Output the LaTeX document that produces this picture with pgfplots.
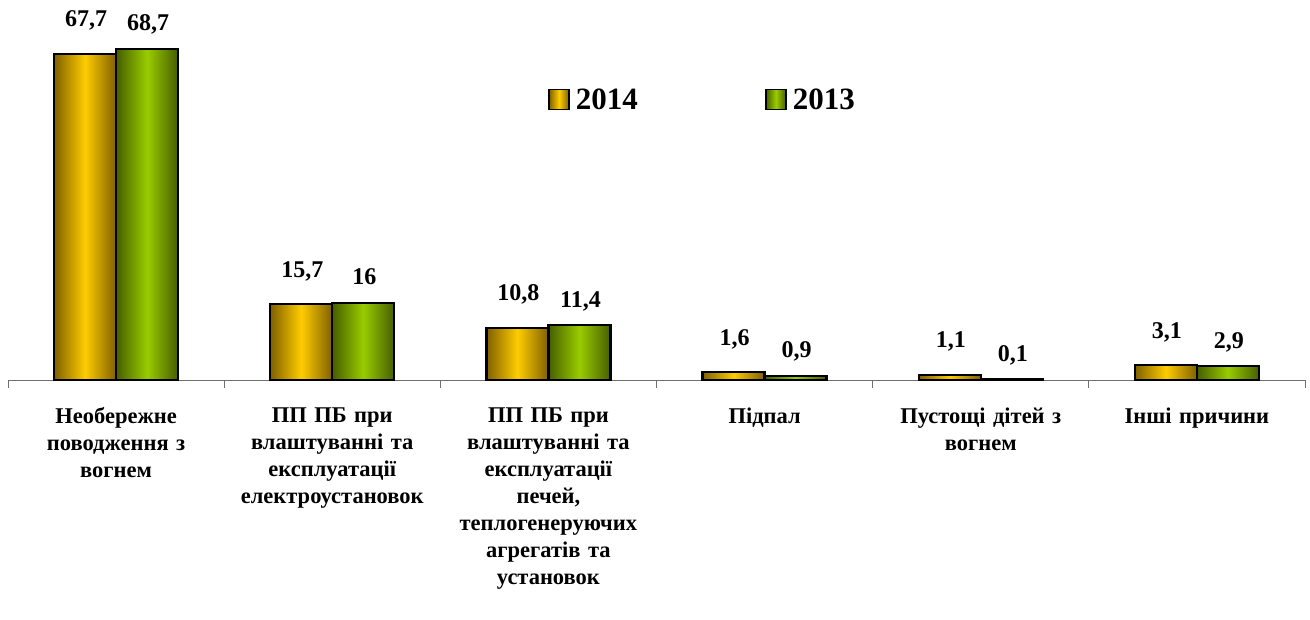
\documentclass[border=0pt]{standalone}
\usepackage{fontspec}
\setmainfont{Liberation Serif}
\usepackage{pgfplots}
\pgfplotsset{compat=1.18}
\usetikzlibrary{calc}
\definecolor{goldb}{HTML}{FFCC00}
\definecolor{goldd}{HTML}{7F6000}
\definecolor{greenb}{HTML}{99CC00}
\definecolor{greend}{HTML}{465E00}
\definecolor{axgray}{HTML}{707070}
\pgfplotsset{
  s14/.style={ybar, bar width=62pt, bar shift=-31pt, draw=black, line width=2.2pt,
    left color=goldd, right color=goldd, middle color=goldb,
    every node near coord/.append style={yshift=27pt, xshift=-30pt}},
  s13/.style={ybar, bar width=62pt, bar shift=31pt, draw=black, line width=2.2pt,
    left color=greend, right color=greend, middle color=greenb,
    every node near coord/.append style={yshift=18pt, xshift=32pt}},
}
\begin{document}
\begin{tikzpicture}
\begin{axis}[
  scale only axis, width=1297pt, height=380pt,
  xmin=-0.5, xmax=5.5, ymin=0, ymax=78.84,
  axis x line*=bottom, axis y line=none,
  axis line style={draw=axgray, line width=0.9pt},
  xtick={0,1,2,3,4,5},
  major tick length=0pt,
  xticklabels={
    {Необережне\\поводження з\\вогнем},
    {ПП ПБ при\\влаштуванні та\\експлуатації\\електроустановок},
    {ПП ПБ при\\влаштуванні та\\експлуатації\\печей,\\теплогенеруючих\\агрегатів та\\установок},
    {Підпал},
    {Пустощі дітей з\\вогнем},
    {Інші причини}},
  xticklabel style={font=\bfseries\fontsize{22.5}{27}\selectfont, align=center, text width=215pt, anchor=north, yshift=-24pt},
  extra x ticks={-0.5,0.5,1.5,2.5,3.5,4.5,5.5},
  extra x tick labels={},
  extra x tick style={major tick length=8pt, tick align=outside, tick style={draw=axgray, line width=0.9pt}},
  clip=false,
  nodes near coords,
  nodes near coords style={font=\bfseries\fontsize{24}{28}\selectfont, anchor=base, text=black,
    /pgf/number format/assume math mode=true,
    /pgf/number format/use comma, /pgf/number format/fixed, /pgf/number format/precision=1},
  legend columns=2,
  legend style={draw=none, fill=none, at={(rel axis cs:0.4163,0.738)}, anchor=west,
    font=\bfseries\fontsize{31}{36}\selectfont, inner sep=0pt,
    /tikz/every odd column/.append style={column sep=4pt},
    /tikz/every even column/.append style={column sep=125pt}},
  legend image code/.code={\draw[#1, line width=1.8pt] (0pt,-10pt) rectangle (20pt,10pt);},
]
\addplot[s14] coordinates {(0,67.7)};
\addplot[s13] coordinates {(0,68.7)};
\addplot[s14, forget plot] coordinates {(1,15.7)};
\addplot[s13, forget plot] coordinates {(1,16)};
\addplot[s14, forget plot] coordinates {(2,10.8)};
\addplot[s13, forget plot] coordinates {(2,11.4)};
\addplot[s14, forget plot] coordinates {(3,1.6)};
\addplot[s13, forget plot] coordinates {(3,0.9)};
\addplot[s14, forget plot] coordinates {(4,1.1)};
\addplot[s13, forget plot] coordinates {(4,0.1)};
\addplot[s14, forget plot] coordinates {(5,3.1)};
\addplot[s13, forget plot] coordinates {(5,2.9)};
\legend{2014,2013}
\end{axis}
\pgfresetboundingbox
\path ($(current axis.south west)+(-8pt,-239pt)$) rectangle ($(current axis.north east)+(5pt,0pt)$);
\end{tikzpicture}
\end{document}
